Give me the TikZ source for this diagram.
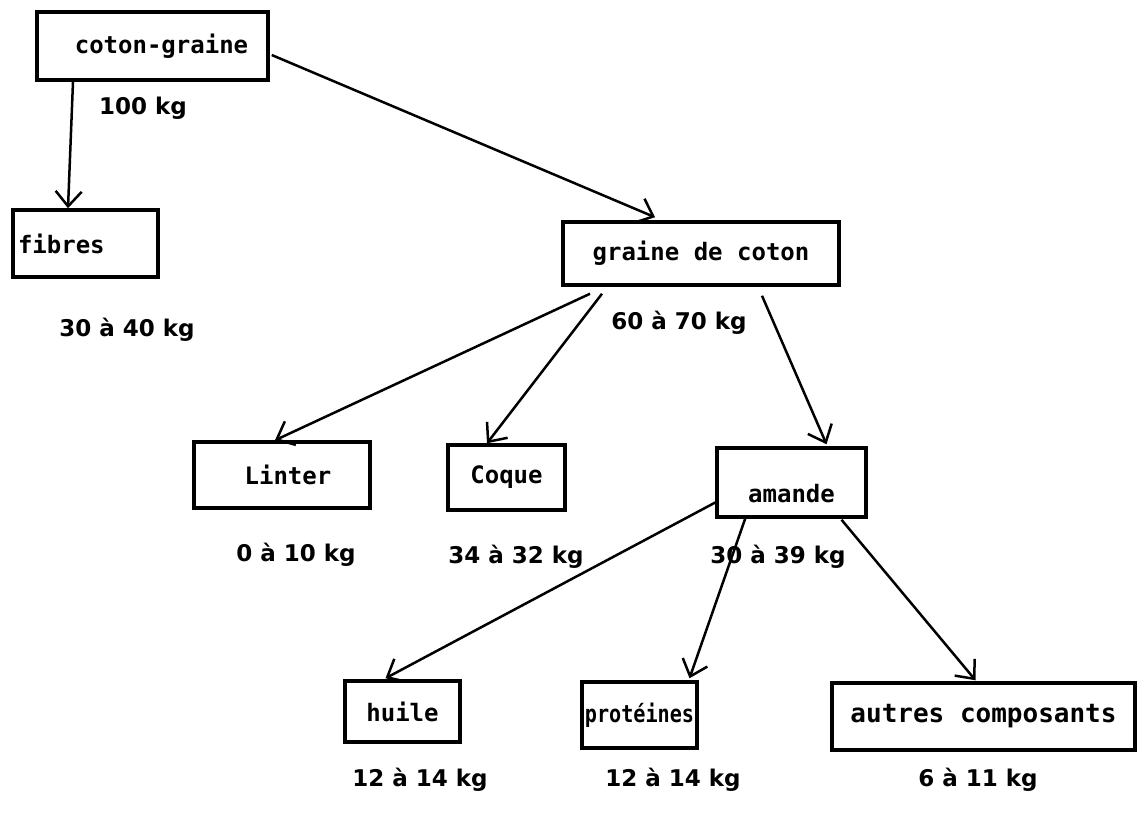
\documentclass[tikz,border=0pt]{standalone}
\usepackage{fontspec}
\usetikzlibrary{arrows.meta}
\newfontfamily\boite{DejaVu Sans Mono}
\newfontfamily\poids{DejaVu Sans}

\tikzset{
	boitier/.style={draw, line width=3.5pt, inner sep=5pt, font=\boite\bfseries\fontsize{24}{28}\selectfont},
	masse/.style={font=\poids\bfseries\fontsize{23}{27}\selectfont},
	fleche/.style={line width=2.5pt, -{Straight Barb[length=15pt, width=26pt, line width=2.5pt]}}
}

\begin{document}
\begin{tikzpicture}[x=1pt, y=-1pt]

		\useasboundingbox (0,0) rectangle (1138,815);

		% Les boites
		\node[boitier, minimum width=231pt, minimum height=68pt] (cotongraine) at (152.5,46) {\hspace*{18pt}coton-graine};
		\node[boitier, minimum width=145pt, minimum height=67pt, text width=135pt, align=left] (fibres) at (85.5,243.5) {fibres};
		\node[boitier, minimum width=276pt, minimum height=63pt] (graine) at (701,253.5) {graine de coton};

		\node[boitier, minimum width=176pt, minimum height=66pt] (linter) at (282,475) {\hspace*{12pt}Linter};
		\node[boitier, minimum width=117pt, minimum height=65pt] (coque) at (506.5,477.5) {Coque};
		\node[boitier, minimum width=149pt, minimum height=69pt] (amande) at (791.5,482.5) {\raisebox{-20pt}[0pt][0pt]{amande}};

		\node[boitier, minimum width=115pt, minimum height=61pt] (huile) at (402.5,711.5) {huile};
		\node[boitier, minimum width=115pt, minimum height=66pt, inner sep=1pt] (proteines) at (639.5,715) {\scalebox{0.84}[1]{protéines}};
		\node[boitier, minimum width=303pt, minimum height=67pt, font=\boite\bfseries\fontsize{26}{30}\selectfont] (autres) at (983.5,716.5) {autres composants};

		% Les masses
		\node[masse] (m-cotongraine) at (143,108) {100 kg};
		\node[masse] (m-fibres) at (127,330) {30 à 40 kg};
		\node[masse] (m-graine) at (679,323) {60 à 70 kg};
		\node[masse] (m-linter) at (296,555) {0 à 10 kg};
		\node[masse] (m-coque) at (516,557) {34 à 32 kg};
		\node[masse] (m-amande) at (778,557) {30 à 39 kg};
		\node[masse] (m-huile) at (420,780) {12 à 14 kg};
		\node[masse] (m-proteines) at (673,780) {12 à 14 kg};
		\node[masse] (m-autres) at (978,780) {6 à 11 kg};

		% Les fleches
		\draw[fleche] ([xshift=-79.5pt]cotongraine.south) -- ([xshift=-17.5pt]fibres.north);
		\draw[fleche] ([xshift=2pt, yshift=-9pt]cotongraine.east) -- ([xshift=-46pt, yshift=3pt]graine.north);

		\draw[fleche] ([xshift=-111pt, yshift=-7pt]graine.south) -- ([xshift=-7pt]linter.north);
		\draw[fleche] ([xshift=-99pt, yshift=-7pt]graine.south) -- ([xshift=-19.5pt]coque.north);
		\draw[fleche] ([xshift=61pt, yshift=-9pt]graine.south) -- ([xshift=35pt, yshift=2pt]amande.north);

		\draw[fleche] ([yshift=-20pt]amande.west) -- ([xshift=-17pt, yshift=1pt]huile.north);
		\draw[fleche] ([xshift=-46pt, yshift=1pt]amande.south) -- ([xshift=50pt, yshift=2pt]proteines.north);
		\draw[fleche] ([xshift=50pt, yshift=-1pt]amande.south) -- ([xshift=-8pt, yshift=1pt]autres.north);

\end{tikzpicture}
\end{document}
